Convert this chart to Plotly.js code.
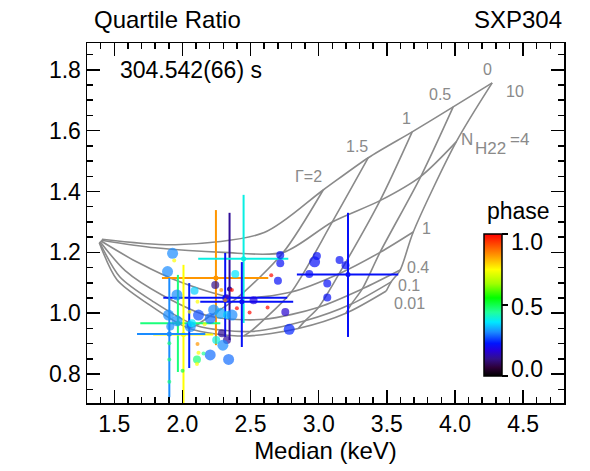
<!DOCTYPE html>
<html><head>
<script src="https://cdn.plot.ly/plotly-3.0.1.min.js"></script>
<style>body{margin:0;background:#fff}</style>
</head><body>
<div id="plot" style="width:590px;height:471px"></div>
<script>
// ---- data points: median (keV), quartile ratio, pulse phase, weight class ----
const medians = [1.928,1.940,1.891,2.388,2.089,1.960,2.111,2.052,1.898,2.118,1.960,2.229,2.278,2.327,2.364,2.204,2.058,1.911,2.070,2.163,2.290,2.327,2.297,2.248,2.204,2.339,2.107,2.118,2.107,2.111,2.155,1.904,1.904,1.904,2.001,2.363,2.400,2.493,2.327,2.285,2.241,2.718,2.718,2.701,2.987,2.970,3.153,3.197,2.931,3.063,3.063,2.755,2.784,2.522,2.322,2.652,2.625,2.314];
const ratios  = [1.197,1.173,1.137,1.129,1.074,1.060,1.038,1.005,0.994,0.994,0.975,1.011,1.000,0.994,0.994,0.983,0.956,0.956,0.967,0.964,0.934,0.912,0.895,0.912,0.863,0.848,0.848,0.870,0.833,0.899,0.868,0.901,0.848,0.775,0.811,1.076,1.016,1.002,1.054,1.076,1.093,1.191,1.164,1.107,1.188,1.169,1.175,1.158,1.129,1.098,1.052,1.004,0.947,1.043,1.049,1.125,1.019,1.043];
const phases  = [0.31,0.75,0.31,0.38,0.36,0.31,0.75,0.75,0.31,0.27,0.31,0.31,0.33,0.36,0.31,0.29,0.31,0.31,0.38,0.75,0.13,0.13,0.31,0.40,0.29,0.29,0.47,0.75,0.75,0.85,0.45,0.47,0.47,0.47,0.50,0.98,0.99,0.99,0.99,0.85,0.12,0.22,0.22,0.22,0.22,0.22,0.22,0.22,0.22,0.22,0.22,0.17,0.24,0.19,0.22,0.99,0.99,0.85];
const weights = [3,1,3,2,2,3,1,1,3,3,3,3,3,2,3,3,3,2,2,1,2,2,3,2,3,3,2,1,1,1,1,1,1,1,1,1,1,1,1,1,2,2,2,2,2,3,2,2,2,2,2,2,3,2,2,1,1,1];

// ---- points with error bars ----
const ebMed    = [2.246,2.346,2.449,2.436,2.314,3.215,1.967,2.008,1.904,2.050];
const ebRatio  = [1.116,1.080,1.179,1.038,1.051,1.127,0.967,0.930,0.932,0.960];
const ebPhase  = [0.85,0.13,0.40,0.22,0.22,0.22,0.47,0.75,0.31,0.24];
const ebXlo    = [1.850,2.346,2.116,2.131,1.860,2.840,1.691,1.786,1.667,2.050];
const ebXhi    = [2.630,2.346,2.777,2.813,2.769,3.584,2.278,2.226,2.168,2.050];
const ebYlo    = [0.895,0.912,0.968,0.889,0.922,0.922,0.807,0.705,0.724,0.820];
const ebYhi    = [1.339,1.330,1.389,1.168,1.198,1.330,1.126,1.159,1.116,1.099];

// ---- model grid: rows = photon index, columns = NH22 ----
const gridGamma = [0,0.5,1,1.5,2,2.5,3,4];
const gridNH = [0.01,0.1,0.4,1,4,10];
const gridX = [
  [3.496,3.532,3.598,3.694,4.009,4.273],
  [3.200,3.240,3.320,3.450,3.750,3.987],
  [2.850,2.900,3.000,3.150,3.450,3.686],
  [2.450,2.500,2.600,2.800,3.100,3.364],
  [2.050,2.100,2.200,2.400,2.740,3.033],
  [1.750,1.780,1.850,2.000,2.300,2.600],
  [1.520,1.540,1.580,1.660,1.800,1.950],
  [1.390,1.392,1.395,1.400,1.405,1.410]];
const gridY = [
  [1.073,1.103,1.142,1.267,1.563,1.757],
  [1.000,1.030,1.080,1.200,1.450,1.678],
  [0.950,0.975,1.020,1.130,1.370,1.596],
  [0.925,0.940,0.980,1.070,1.300,1.511],
  [0.950,0.960,0.990,1.050,1.200,1.405],
  [1.030,1.040,1.060,1.100,1.200,1.265],
  [1.110,1.120,1.140,1.170,1.215,1.225],
  [1.232,1.234,1.236,1.238,1.240,1.243]];

const xTicks = [1.5,2.0,2.5,3.0,3.5,4.0,4.5];
const yTicks = [0.8,1.0,1.2,1.4,1.6,1.8];
const cbTicks = [0.0,0.5,1.0];
const cbLabelY = [0.094,0.267,0.447];   // paper positions of the colour-bar labels

const cscale = [[0,'#000000'],[0.06,'#2d0038'],[0.12,'#32108a'],[0.18,'#2400dc'],[0.23,'#0014ff'],[0.31,'#1a8cff'],[0.38,'#00e8ff'],[0.45,'#20ff9a'],[0.55,'#00ff00'],[0.65,'#a0ff00'],[0.75,'#ffff00'],[0.85,'#ff9600'],[1,'#ff0000']];
function hex2rgb(h){return [parseInt(h.substr(1,2),16),parseInt(h.substr(3,2),16),parseInt(h.substr(5,2),16)];}
function colorAt(v){
  for(let i=1;i<cscale.length;i++){
    if(v<=cscale[i][0]){
      const a=cscale[i-1],b=cscale[i];const t=(v-a[0])/(b[0]-a[0]);
      const ca=hex2rgb(a[1]),cb=hex2rgb(b[1]);
      return 'rgb('+ca.map((c,k)=>Math.round(c+(cb[k]-c)*t)).join(',')+')';
    }
  }
  return cscale[cscale.length-1][1];
}

const GRAY='#8a8a8a';
const traces=[];
for(let i=0;i<5;i++){
  traces.push({x:gridX[i],y:gridY[i],mode:'lines',line:{color:GRAY,width:1.6,shape:'spline',smoothing:0.8},hoverinfo:'skip',showlegend:false});
}
for(let j=0;j<gridNH.length;j++){
  traces.push({x:gridX.map(r=>r[j]),y:gridY.map(r=>r[j]),mode:'lines',line:{color:GRAY,width:1.6,shape:'spline',smoothing:0.8},hoverinfo:'skip',showlegend:false});
}
for(let k=0;k<ebMed.length;k++){
  const c=colorAt(ebPhase[k]);
  const t={x:[ebMed[k]],y:[ebRatio[k]],mode:'markers',marker:{size:5,color:c},showlegend:false,
    error_y:{type:'data',symmetric:false,array:[ebYhi[k]-ebRatio[k]],arrayminus:[ebRatio[k]-ebYlo[k]],color:c,thickness:2,width:0}};
  if(ebXhi[k]>ebXlo[k]) t.error_x={type:'data',symmetric:false,array:[ebXhi[k]-ebMed[k]],arrayminus:[ebMed[k]-ebXlo[k]],color:c,thickness:2,width:0};
  traces.push(t);
}
const sizeMap={1:4,2:8,3:11};
traces.push({x:medians,y:ratios,mode:'markers',showlegend:false,
  marker:{size:weights.map(w=>sizeMap[w]),color:phases,cmin:0,cmax:1,colorscale:cscale,line:{width:0},
    showscale:true,
    colorbar:{x:0.832,xanchor:'left',y:0.272,yanchor:'middle',len:142,lenmode:'pixels',thickness:18,
      outlinewidth:1.5,outlinecolor:'#000',xpad:0,ypad:0,ticks:'outside',ticklen:6,tickwidth:1.5,tickcolor:'#000',
      tickvals:cbTicks,showticklabels:false}}});

const F="Liberation Sans, Arial, Helvetica, sans-serif";
const gl=(t,x,y,xa)=>({text:t,x:x,y:y,xref:'x',yref:'y',showarrow:false,xanchor:xa||'center',yanchor:'middle',font:{size:16,color:GRAY}});
const ann=[
  {text:'Quartile Ratio',xref:'paper',yref:'paper',x:0.01,y:1.064,xanchor:'left',yanchor:'middle',showarrow:false,font:{size:24}},
  {text:'SXP304',xref:'paper',yref:'paper',x:1,y:1.064,xanchor:'right',yanchor:'middle',showarrow:false,font:{size:24}},
  {text:'304.542(66) s',xref:'paper',yref:'paper',x:0.065,y:0.925,xanchor:'left',yanchor:'middle',showarrow:false,font:{size:23}},
  {text:'phase',xref:'paper',yref:'paper',x:0.834,y:0.532,xanchor:'left',yanchor:'middle',showarrow:false,font:{size:23}},
  gl('0',4.237,1.80),gl('10',4.36,1.728,'left'),gl('0.5',3.892,1.718),gl('1',3.647,1.641),gl('1.5',3.281,1.548),
  gl('Γ=2',2.926,1.449),
  {text:'N',x:4.090,y:1.570,xref:'x',yref:'y',showarrow:false,font:{size:17,color:GRAY}},
  {text:'H22',x:4.259,y:1.541,xref:'x',yref:'y',showarrow:false,font:{size:17,color:GRAY}},
  {text:'=4',x:4.471,y:1.570,xref:'x',yref:'y',showarrow:false,font:{size:17,color:GRAY}},
  gl('1',3.745,1.280,'left'),
  gl('0.4',3.63,1.149,'left'),gl('0.1',3.57,1.092,'left'),gl('0.01',3.54,1.032,'left')
];
cbTicks.forEach((v,i)=>ann.push({text:v.toFixed(1),xref:'paper',yref:'paper',x:0.885,y:cbLabelY[i],xanchor:'left',yanchor:'middle',showarrow:false,font:{size:23}}));
const layout={
  width:590,height:471,margin:{l:87,r:26,t:43,b:68},paper_bgcolor:'#fff',plot_bgcolor:'#fff',
  font:{family:F,size:23,color:'#000'},
  xaxis:{range:[1.3,4.8],tickvals:xTicks,ticktext:xTicks.map(v=>v.toFixed(1)),ticks:'inside',ticklen:13,tickwidth:1.5,tickcolor:'#000',
    mirror:'allticks',showline:true,linecolor:'#000',linewidth:1.5,showgrid:false,zeroline:false,
    minor:{dtick:0.1,ticks:'inside',ticklen:6,tickwidth:1.5,tickcolor:'#000'},
    tickfont:{size:23},title:{text:'Median (keV)',font:{size:24},standoff:4}},
  yaxis:{range:[0.705,1.888],tickvals:yTicks,ticktext:yTicks.map(v=>v.toFixed(1)),ticks:'inside',ticklen:13,tickwidth:1.5,tickcolor:'#000',
    mirror:'allticks',showline:true,linecolor:'#000',linewidth:1.5,showgrid:false,zeroline:false,
    minor:{dtick:0.05,ticks:'inside',ticklen:6,tickwidth:1.5,tickcolor:'#000'},tickfont:{size:23}},
  annotations:ann
};
Plotly.newPlot('plot',traces,layout,{staticPlot:true});
</script>
</body></html>
